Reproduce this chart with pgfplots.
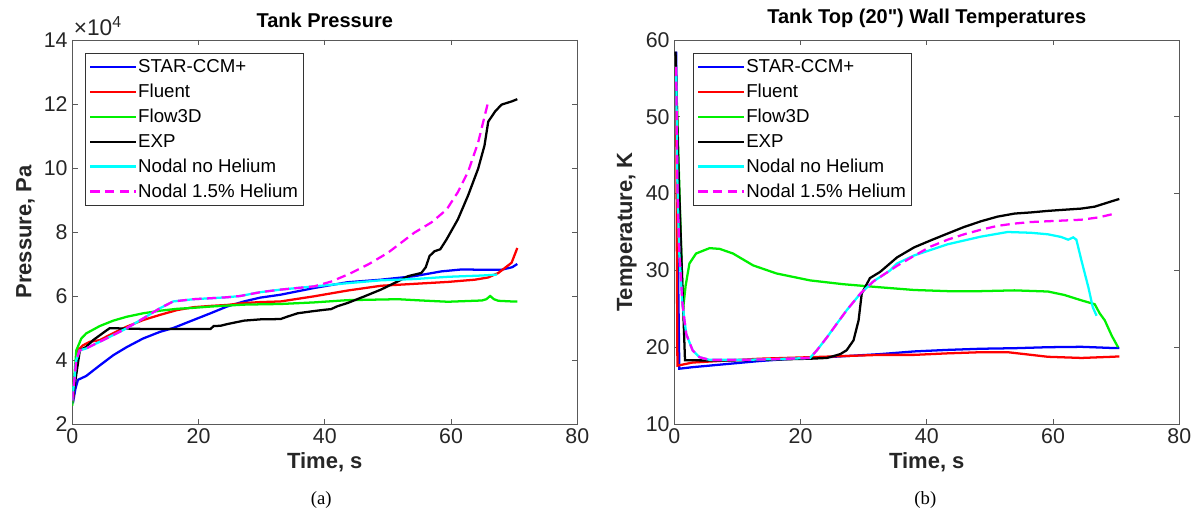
\documentclass[border=0pt]{standalone}
\usepackage{fontspec}
\setmainfont{Liberation Sans}[Ligatures=TeXOff]
\newfontfamily\capfont{Liberation Serif}
\usepackage{pgfplots}
\pgfplotsset{compat=1.18}

\definecolor{mblue}{RGB}{0,0,255}
\definecolor{mred}{RGB}{255,0,0}
\definecolor{mgreen}{RGB}{0,240,0}
\definecolor{mcyan}{RGB}{0,255,255}
\definecolor{mmag}{RGB}{255,0,255}
\definecolor{axgray}{gray}{0.35}
\definecolor{txgray}{gray}{0.15}

\pgfplotsset{
  mat/.style={
    scale only axis, width=378.75pt, height=288pt,
    anchor=south west,
    xmin=0, xmax=80, xtick={0,20,...,80},
    tick align=inside, tick pos=both, major tick length=4pt,
    axis line style={axgray, line width=0.6pt},
    every tick/.style={axgray, line width=0.6pt},
    tick label style={font=\fontsize{16}{18}\selectfont, text=txgray},
    /pgf/number format/assume math mode=true,
    label style={font=\fontsize{16.5}{19}\selectfont\bfseries, text=txgray},
    title style={font=\fontsize{15}{18}\selectfont\bfseries, yshift=0pt},
    xlabel={Time, s},
    legend cell align=left,
    legend style={font=\fontsize{14}{16}\selectfont, draw=black!80, line width=0.6pt,
      row sep=5.1pt, inner xsep=3pt, inner ysep=3.5pt,
      nodes={inner xsep=1pt, inner ysep=1pt}},
    legend image code/.code={\draw[#1] (0pt,0pt) -- (34pt,0pt);},
  },
  sb/.style={mblue, line width=1.7pt}, sr/.style={mred, line width=1.7pt},
  sg/.style={mgreen, line width=1.7pt}, sk/.style={black, line width=1.7pt},
  sc/.style={mcyan, line width=1.7pt},
  sm/.style={mmag, line width=1.7pt, dash pattern=on 7pt off 4pt},
}

\begin{document}
\begin{tikzpicture}
\path[use as bounding box] (0pt,-70.5pt) rectangle (900pt,318pt);

% ---------------- (a) tank pressure ----------------
\begin{axis}[mat, name=pa, at={(54.2pt,0pt)},
  ymin=2, ymax=14, ytick={2,4,...,14},
  title={Tank Pressure}, ylabel={Pressure, Pa},
  legend style={at={(0.025,0.965)}, anchor=north west},
]
\addplot[sb] coordinates {(0.1,2.65) (0.5,3.1) (0.9,3.38) (2.2,3.5) (4.35,3.83) (6.5,4.15)
  (8.6,4.4) (11.2,4.67) (13.9,4.88) (16,5.0) (19.2,5.25) (21.9,5.46) (24.5,5.67) (27.2,5.83)
  (29.8,5.95) (33,6.04) (38.3,6.25) (43.6,6.43) (48.9,6.51) (54.2,6.62) (58.5,6.77) (61.7,6.83)
  (64.9,6.82) (68,6.82) (69.7,6.9) (70.5,7.0)};
\addlegendentry{STAR-CCM+}
\addplot[sr] coordinates {(0.1,2.7) (0.5,3.6) (0.9,4.3) (1.7,4.46) (2.8,4.57) (4.35,4.62)
  (5.9,4.78) (8.6,5.04) (11.25,5.25) (13.9,5.41) (16.6,5.56) (19.2,5.65) (21.9,5.69) (24.5,5.72)
  (27.2,5.78) (29.8,5.81) (33,5.83) (38.3,5.99) (43.6,6.17) (48.9,6.32) (54.2,6.38) (59.5,6.44)
  (63.8,6.51) (65.9,6.58) (67.5,6.72) (69.6,7.04) (70.5,7.5)};
\addlegendentry{Fluent}
\addplot[sg] coordinates {(0.0,2.57) (0.3,3.4) (0.64,4.3) (1.43,4.67) (2.2,4.83) (4.35,5.06)
  (6.5,5.23) (8.6,5.35) (11.25,5.46) (13.9,5.54) (16.6,5.6) (19.2,5.63) (21.9,5.67) (24.5,5.7)
  (27.2,5.73) (29.8,5.74) (33,5.75) (38.3,5.8) (43.6,5.87) (51.6,5.9) (55.3,5.86) (59.5,5.82)
  (64.9,5.86) (65.6,5.9) (66.2,6.0) (66.8,5.9) (67.5,5.85) (69.6,5.83) (70.5,5.83)};
\addlegendentry{Flow3D}
\addplot[sk] coordinates {(0.0,2.73) (0.6,3.5) (1.2,4.3) (2.2,4.41) (3.3,4.62) (4.9,4.85)
  (5.9,4.99) (7,4.99) (11.25,4.97) (13.9,4.97) (21.9,4.97) (22.4,5.06) (23.5,5.07) (24.5,5.12)
  (27.2,5.23) (29.8,5.27) (33,5.28) (34,5.35) (35.7,5.46) (38.3,5.53) (40,5.57) (41,5.59)
  (42,5.68) (43.6,5.78) (46.3,5.99) (48.9,6.2) (51.6,6.46) (53.2,6.62) (55.3,6.72) (56.0,6.9)
  (56.6,7.25) (57.4,7.4) (58.3,7.46) (59.3,7.77) (61.1,8.4) (62.7,9.14) (64.3,9.98) (65.3,10.7)
  (65.9,11.45) (67,11.77) (68,11.98) (69.6,12.08) (70.5,12.15)};
\addlegendentry{EXP}
\addplot[sc] coordinates {(0.0,2.73) (0.64,4.0) (1.17,4.3) (2.2,4.36) (4.35,4.57) (6.5,4.78)
  (8.6,4.99) (11.25,5.3) (13.9,5.62) (16,5.83) (19.2,5.9) (21.9,5.93) (24.5,5.96) (26.6,6.0)
  (29.8,6.12) (33,6.2) (38.3,6.3) (43.6,6.4) (48.9,6.49) (54.2,6.53) (59.5,6.6) (64.9,6.64)
  (67.3,6.67)};
\addlegendentry{Nodal no Helium}
\addplot[sm] coordinates {(0.0,2.73) (0.64,4.0) (1.17,4.3) (2.2,4.36) (4.35,4.57) (6.5,4.78)
  (8.6,4.99) (11.25,5.3) (13.9,5.62) (16,5.83) (19.2,5.9) (21.9,5.93) (24.5,5.96) (26.6,6.0)
  (29.8,6.12) (33,6.2) (38.3,6.3) (41,6.45) (44,6.7) (47,7.0) (50,7.35) (54.2,7.98) (56.9,8.3)
  (59.3,8.7) (61.1,9.25) (62.7,9.88) (64.3,10.8) (65.3,11.6) (65.9,12.08)};
\addlegendentry{Nodal 1.5\% Helium\hspace{10pt}}
\end{axis}
\node[anchor=south west, inner sep=0pt, text=txgray, font=\fontsize{17}{19}\selectfont]
  at ([xshift=1pt,yshift=3pt]pa.north west) {×10\textsuperscript{4}};

% ---------------- (b) wall temperatures ----------------
\begin{axis}[mat, at={(505.7pt,0pt)},
  ymin=10, ymax=60, ytick={10,20,...,60},
  title={Tank Top (20") Wall Temperatures}, ylabel={Temperature, K},
  legend style={at={(0.037,0.965)}, anchor=north west},
]
\addplot[sb] coordinates {(0.3,58.5) (0.6,30) (0.8,17.2) (2.9,17.4) (8.2,17.8) (13.5,18.2)
  (18.8,18.5) (24.2,18.7) (32.6,19.1) (38,19.45) (43.3,19.65) (48.6,19.8) (53.9,19.87)
  (59.2,20.0) (64.5,20.05) (69.3,19.9) (70.5,19.9)};
\addlegendentry{STAR-CCM+}
\addplot[sr] coordinates {(0.3,52) (0.5,17.6) (2.9,18.0) (8.2,18.26) (13.5,18.5) (21.5,18.7)
  (32.6,19.0) (38,19.0) (43.3,19.2) (48.6,19.35) (52.8,19.35) (55.5,19.1) (59.2,18.75)
  (64.5,18.6) (69.3,18.75) (70.5,18.8)};
\addlegendentry{Fluent}
\addplot[sg] coordinates {(0.3,55) (0.9,38) (1.4,25) (1.8,28) (2.4,30.9) (3.45,32.2) (5.6,32.9)
  (7.2,32.8) (9.3,32.2) (12.5,30.65) (16.2,29.6) (21.5,28.7) (26.8,28.2) (32.6,27.8) (38,27.45)
  (43.3,27.3) (48.6,27.3) (53.9,27.4) (59.2,27.25) (61.8,26.8) (64.5,26.1) (66.6,25.6)
  (67.4,24.4) (68.2,23.5) (69.3,21.5) (70.3,20)};
\addlegendentry{Flow3D}
\addplot[sk] coordinates {(0.2,58.5) (0.6,45) (1.2,30) (1.7,18.3) (8.2,18.26) (13.5,18.35)
  (21.5,18.5) (24.2,18.6) (26.3,19.1) (27.3,19.6) (28.4,20.9) (29.2,23.5) (29.7,27.0) (31,29.0)
  (32.6,29.8) (35.3,31.7) (38,33.0) (40.6,33.9) (43.3,34.8) (45.9,35.65) (48.6,36.4) (51.2,37.0)
  (53.9,37.4) (56.5,37.55) (59.2,37.75) (61.8,37.9) (64.5,38.05) (66.6,38.3) (69.3,39.0)
  (70.5,39.3)};
\addlegendentry{EXP}
\addplot[sc] coordinates {(0.3,56.5) (0.5,41) (0.8,32.2) (1.3,25.6) (1.9,21.7) (2.9,19.6)
  (4,18.7) (5.6,18.35) (10.9,18.35) (16.2,18.45) (21.5,18.6) (22.6,19.6) (24.2,21.3) (25.7,23.0)
  (27.3,24.8) (29.5,27.0) (31.6,28.6) (34.2,30.0) (35.3,30.9) (38,31.95) (43.3,33.4) (48.6,34.4)
  (52.8,35.0) (56.5,34.9) (59.2,34.7) (61.3,34.35) (62.4,34.0) (63.2,34.3) (63.7,34.0)
  (64.5,31.3) (65.6,27.8) (66.3,25.2) (66.9,24.1)};
\addlegendentry{Nodal no Helium}
\addplot[sm] coordinates {(0.3,56.5) (0.5,41) (0.8,32.2) (1.3,25.6) (1.9,21.7) (2.9,19.6)
  (4,18.7) (5.6,18.35) (10.9,18.35) (16.2,18.45) (21.5,18.6) (22.6,19.6) (24.2,21.3) (25.7,23.0)
  (27.3,24.8) (29.5,27.0) (31.6,28.6) (34.2,30.0) (35.3,30.6) (38,31.9) (40.6,33.1) (43.3,34.0)
  (45.9,34.7) (48.6,35.3) (51.2,35.8) (53.9,36.1) (56.5,36.3) (59.2,36.4) (61.8,36.5)
  (64.5,36.6) (67.2,36.9) (69.3,37.3) (70,37.5)};
\addlegendentry{Nodal 1.5\% Helium\hspace{4pt}}
\end{axis}

\node[font=\capfont\fontsize{14}{16}\selectfont] at (241pt,-57pt) {(a)};
\node[font=\capfont\fontsize{14}{16}\selectfont] at (694pt,-57pt) {(b)};
\end{tikzpicture}
\end{document}
